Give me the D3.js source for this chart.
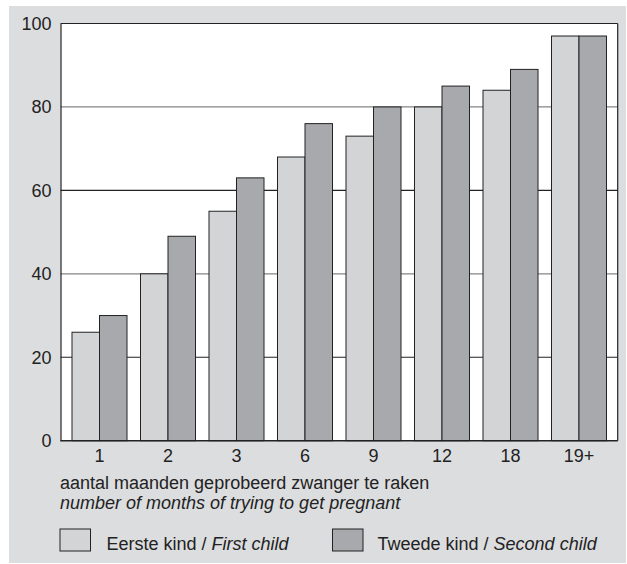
<!DOCTYPE html>
<html><head><meta charset="utf-8">
<script src="https://cdn.jsdelivr.net/npm/d3@7"></script>
<style>body{margin:0;background:#fff}svg{display:block;font-family:"Liberation Sans",Arial,sans-serif}</style>
</head><body>
<svg id="c" width="627" height="564"></svg>
<script>
const categories = ["1","2","3","6","9","12","18","19+"];
const firstChild = [26,40,55,68,73,80,84,97];
const secondChild = [30,49,63,76,80,85,89,97];
const yTicks = [0,20,40,60,80,100];
const seriesNames = ["first","second"];
const FS = 18;

const svg = d3.select("#c");
svg.append("rect").attr("x",9).attr("y",6).attr("width",617).attr("height",557).attr("fill","#dcdddf");

const L = 60.5, R = 617.7, T = 23.5, B = 440.7;
svg.append("rect").attr("x",L).attr("y",T).attr("width",R-L).attr("height",B-T).attr("fill","#fff");

const y = d3.scaleLinear().domain([0,100]).range([B,T]);
const x = d3.scaleBand().domain(categories).range([65.25,613.25]).paddingInner(0.197).paddingOuter(0.0985);
const xs = d3.scaleBand().domain(seriesNames).range([0,x.bandwidth()]);

// gridlines
svg.append("g").selectAll("line").data(yTicks.filter(d=>d>0&&d<100)).join("line")
  .attr("x1",L).attr("x2",R).attr("y1",d=>y(d)).attr("y2",d=>y(d))
  .attr("stroke",d=>(d%40===0)?"#858585":"#222").attr("stroke-width",1.2);

const colors = {first:"#d3d4d6", second:"#a8a9ac"};
const data = categories.map((c,i)=>({c, first:firstChild[i], second:secondChild[i]}));
const g = svg.append("g");
data.forEach(d=>{
  seriesNames.forEach(s=>{
    g.append("rect").attr("x",x(d.c)+xs(s)).attr("y",y(d[s]))
     .attr("width",xs.bandwidth()).attr("height",B-y(d[s]))
     .attr("fill",colors[s]).attr("stroke","#222").attr("stroke-width",1);
  });
});

// frame
svg.append("line").attr("x1",L).attr("x2",R).attr("y1",T).attr("y2",T).attr("stroke","#222").attr("stroke-width",1.2);
svg.append("line").attr("x1",R).attr("x2",R).attr("y1",T).attr("y2",B).attr("stroke","#222").attr("stroke-width",1.2);

// y axis
const ya = svg.append("g").attr("transform",`translate(${L},0)`)
  .call(d3.axisLeft(y).tickValues(yTicks).tickSize(0).tickPadding(9));
ya.select(".domain").attr("stroke","#222").attr("stroke-width",1.2);
ya.selectAll("text").attr("font-size",FS).attr("fill","#222").attr("font-family","Liberation Sans, Arial, sans-serif");

// x axis
const xa = svg.append("g").attr("transform",`translate(0,${B})`)
  .call(d3.axisBottom(x).tickSize(0).tickPadding(9));
xa.select(".domain").attr("d",`M${L},0H${R}`).attr("stroke","#222").attr("stroke-width",1.6);
xa.selectAll("text").attr("font-size",FS).attr("fill","#222").attr("font-family","Liberation Sans, Arial, sans-serif");

function label(px, py){
  return svg.append("text").attr("x",px).attr("y",py).attr("font-size",FS).attr("fill","#222");
}
// axis title
label(60,489).text("aantal maanden geprobeerd zwanger te raken");
label(60,508.5).attr("font-style","italic").text("number of months of trying to get pregnant");

// legend
const leg = [
  {s:"first", x:60, tx:106.5, a:"Eerste kind / ", b:"First child"},
  {s:"second", x:332.5, tx:377.5, a:"Tweede kind / ", b:"Second child"}
];
leg.forEach(l=>{
  svg.append("rect").attr("x",l.x).attr("y",529).attr("width",30.5).attr("height",22)
    .attr("fill",colors[l.s]).attr("stroke","#222").attr("stroke-width",1);
  const t = label(l.tx,550);
  t.append("tspan").text(l.a);
  t.append("tspan").attr("font-style","italic").text(l.b);
});
</script>
</body></html>
